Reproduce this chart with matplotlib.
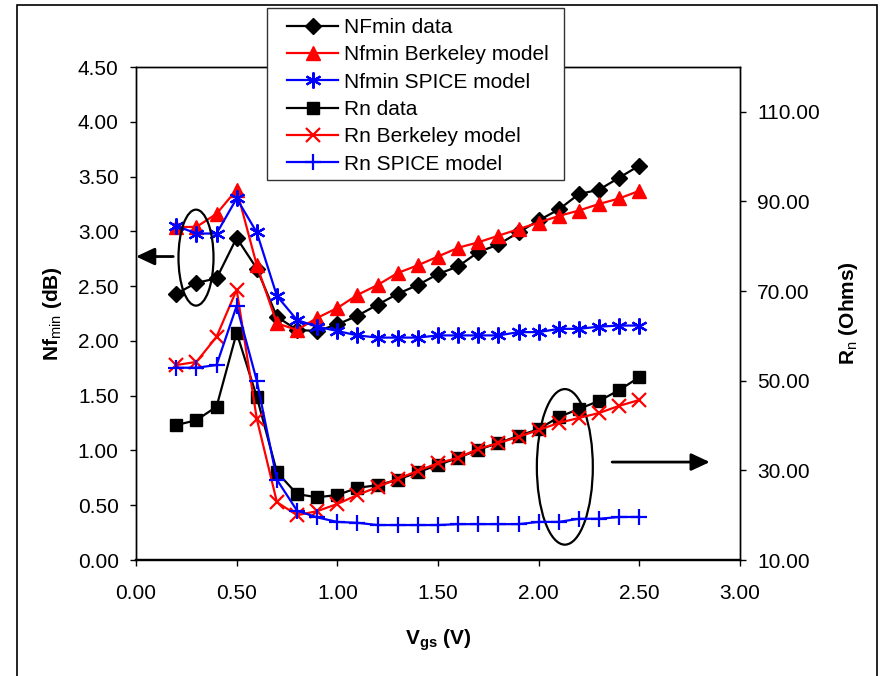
import matplotlib
matplotlib.use("Agg")
import matplotlib.pyplot as plt
from matplotlib.patches import Ellipse, Rectangle
from matplotlib.ticker import FormatStrFormatter

plt.rcParams["font.family"] = ["Liberation Sans", "DejaVu Sans"]
plt.rcParams["font.size"] = 15
plt.rcParams["mathtext.fontset"] = "custom"
plt.rcParams["mathtext.rm"] = "Liberation Sans"
plt.rcParams["mathtext.bf"] = "Liberation Sans:bold"

# gate voltage (V)
vgs = [0.2, 0.3, 0.4, 0.5, 0.6, 0.7, 0.8, 0.9, 1.0, 1.1, 1.2, 1.3,
       1.4, 1.5, 1.6, 1.7, 1.8, 1.9, 2.0, 2.1, 2.2, 2.3, 2.4, 2.5]

# minimum noise figure (dB), left axis
nf_data = [2.43, 2.53, 2.57, 2.94, 2.66, 2.22, 2.10, 2.09, 2.15, 2.23, 2.33, 2.43,
           2.51, 2.61, 2.68, 2.81, 2.88, 2.99, 3.10, 3.20, 3.34, 3.38, 3.49, 3.60]
nf_berkeley = [3.04, 3.04, 3.16, 3.38, 2.69, 2.16, 2.10, 2.21, 2.30, 2.42, 2.51, 2.62,
               2.69, 2.77, 2.85, 2.90, 2.96, 3.02, 3.08, 3.14, 3.19, 3.25, 3.30, 3.37]
nf_spice = [3.05, 2.98, 2.98, 3.30, 2.99, 2.41, 2.19, 2.13, 2.09, 2.05, 2.03, 2.03,
            2.03, 2.05, 2.05, 2.05, 2.05, 2.08, 2.08, 2.11, 2.11, 2.13, 2.14, 2.14]

# noise resistance (Ohms), right axis
rn_data = [40.1, 41.2, 44.2, 60.7, 46.4, 29.6, 24.7, 24.0, 24.5, 26.1, 26.7, 27.9,
           29.6, 31.2, 32.8, 34.6, 36.1, 37.7, 39.2, 41.9, 43.7, 45.5, 47.9, 50.8]
rn_berkeley = [53.5, 54.2, 59.8, 70.3, 41.5, 22.9, 20.0, 20.9, 22.5, 24.5, 26.3, 28.1,
               29.9, 31.6, 32.8, 34.8, 36.1, 37.5, 39.0, 40.6, 41.7, 42.8, 44.4, 45.7]
rn_spice = [52.9, 52.9, 53.5, 66.7, 50.0, 27.9, 21.0, 19.5, 18.5, 18.3, 17.8, 17.8,
            17.8, 17.8, 18.0, 18.0, 18.0, 18.0, 18.5, 18.5, 19.2, 19.2, 19.6, 19.6]

labels = ["NFmin data", "Nfmin Berkeley model", "Nfmin SPICE model",
          "Rn data", "Rn Berkeley model", "Rn SPICE model"]

W, H = 882, 676
fig = plt.figure(figsize=(W / 100, H / 100), dpi=100)
ax = fig.add_axes([136 / W, 1 - 560 / H, 604 / W, 493 / H])
tax = ax.twinx()

asterisk = (6, 2, 0)
kw = dict(lw=1.6, clip_on=False)
h = []
h += ax.plot(vgs, nf_data, color="k", marker="D", ms=8.5, **kw)
h += ax.plot(vgs, nf_berkeley, color="red", marker="^", ms=10.5, **kw)
h += ax.plot(vgs, nf_spice, color="blue", marker=asterisk, ms=11.5, mew=1.6, **kw)
h += tax.plot(vgs, rn_data, color="k", marker="s", ms=9, **kw)
h += tax.plot(vgs, rn_berkeley, color="red", marker="x", ms=10, mew=1.6, **kw)
h += tax.plot(vgs, rn_spice, color="blue", marker="+", ms=11.5, mew=1.6, **kw)

ax.set_xlim(0, 3)
ax.set_ylim(0, 4.5)
tax.set_ylim(10, 120)
ax.set_xticks([0, 0.5, 1.0, 1.5, 2.0, 2.5, 3.0])
ax.set_yticks([0, 0.5, 1.0, 1.5, 2.0, 2.5, 3.0, 3.5, 4.0, 4.5])
tax.set_yticks([10, 30, 50, 70, 90, 110])
for a in (ax, tax):
    a.xaxis.set_major_formatter(FormatStrFormatter("%.2f"))
    a.yaxis.set_major_formatter(FormatStrFormatter("%.2f"))
    for s in a.spines.values():
        s.set_linewidth(1.0)
    a.spines["bottom"].set_linewidth(1.6)
ax.tick_params(axis="y", direction="out", length=4.5, width=1, pad=8)
ax.tick_params(axis="x", direction="out", length=4.5, width=1, pad=13)
tax.tick_params(axis="y", direction="out", length=4.5, width=1, pad=8)

ax.set_ylabel("Nf$_{\\mathrm{min}}$ (dB)", fontweight="bold", va="center")
ax.yaxis.set_label_coords(-0.139, 0.5)
tax.set_ylabel("R$_{\\mathrm{n}}$ (Ohms)", fontweight="bold", va="center", rotation=90)
tax.yaxis.set_label_coords(1.179, 0.5)
ax.set_xlabel("V$_{\\mathbf{gs}}$ (V)", fontweight="bold", va="center")
ax.xaxis.set_label_coords(0.5, -0.162)

# callouts: ellipses and arrows pointing to each curve group's axis
ax.add_patch(Ellipse((0.298, 2.76), 0.174, 0.876, fill=False, ec="k", lw=1.6, zorder=5))
ax.add_patch(Ellipse((2.13, 0.85), 0.278, 1.42, fill=False, ec="k", lw=1.6, zorder=5))
arr = dict(arrowstyle="-|>,head_length=0.75,head_width=0.35", color="k", lw=2,
           mutation_scale=15, shrinkA=0, shrinkB=0)
ax.annotate("", xy=(0.0, 2.77), xytext=(0.185, 2.77), arrowprops=arr,
            annotation_clip=False)
ax.annotate("", xy=(2.85, 0.894), xytext=(2.365, 0.894), arrowprops=arr,
            annotation_clip=False)

# legend box over the top edge of the plot
fig.patches.append(Rectangle((267 / W, 1 - 180 / H), 297 / W, 172 / H,
                             transform=fig.transFigure, fc="white", ec="#333333",
                             lw=1.0, zorder=2))
fig.legend(h, labels, loc="upper left", bbox_to_anchor=(287 / W, 1 - 18 / H),
           bbox_transform=fig.transFigure, frameon=False, borderpad=0,
           borderaxespad=0, handlelength=2.45, handletextpad=0.3,
           labelspacing=0.40, fontsize=15)

# outer chart border
fig.patches.append(Rectangle((17 / W, -0.05), 860 / W, 1.05 - 5 / H,
                             transform=fig.transFigure, fill=False, ec="k",
                             lw=1.2, zorder=1))

fig.savefig("out.png", dpi=100)
